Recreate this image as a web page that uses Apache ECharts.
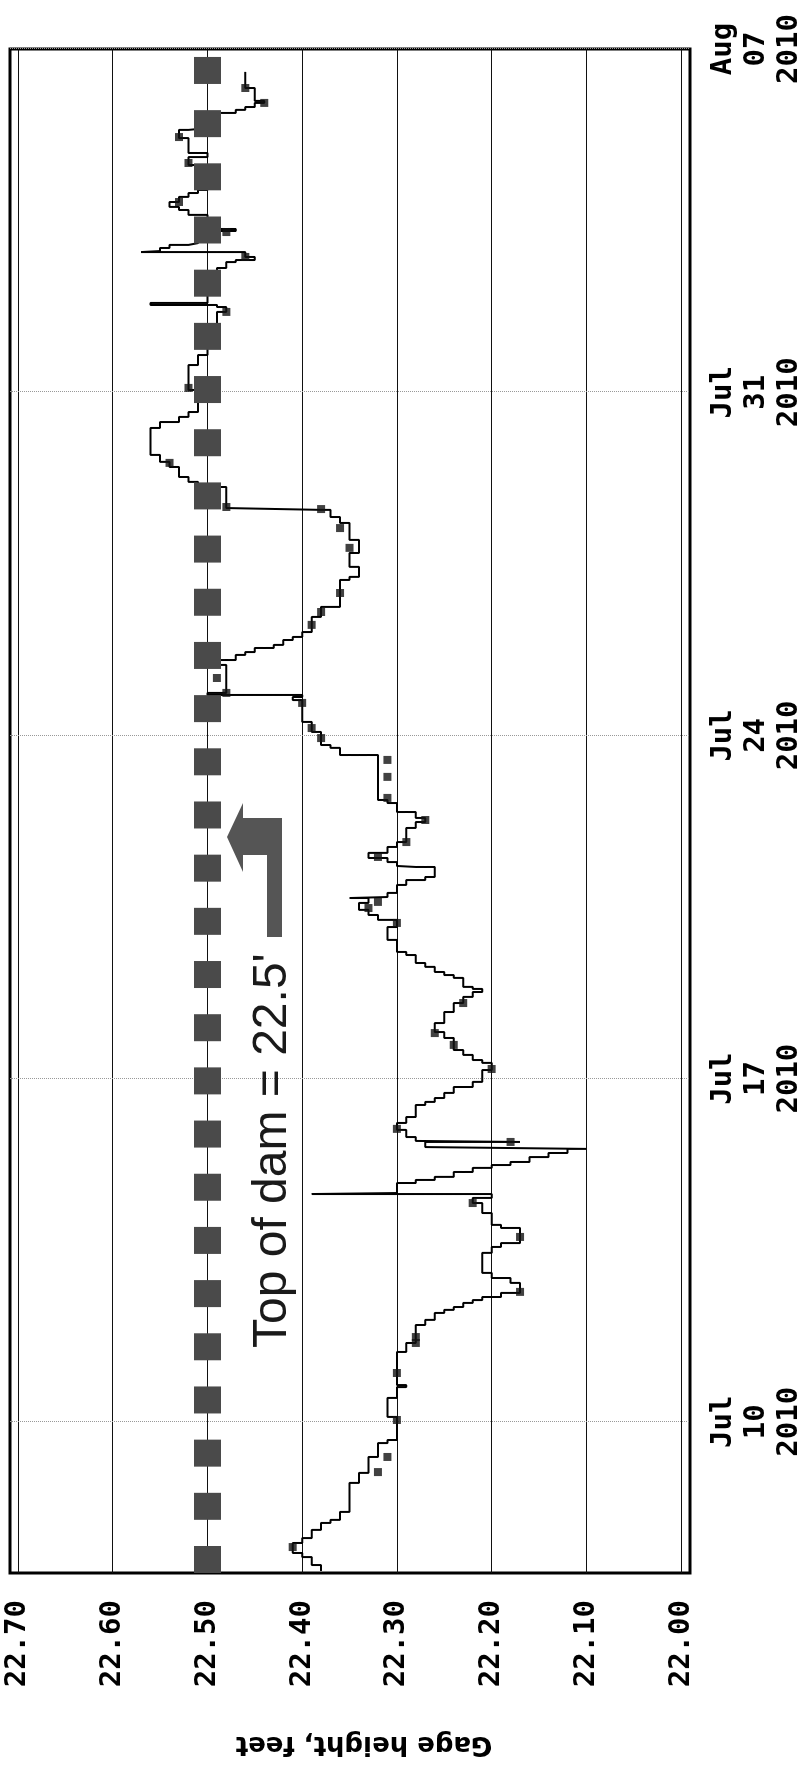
<!DOCTYPE html>
<html>
<head>
<meta charset="utf-8">
<script src="https://cdn.jsdelivr.net/npm/echarts@6/dist/echarts.min.js"></script>
<style>
html,body{margin:0;padding:0;background:#fff;width:806px;height:1767px;overflow:hidden;}
#chart{position:absolute;left:0;top:0;width:1767px;height:806px;transform-origin:0 0;transform:translate(0,1767px) rotate(-90deg);background:#fff;}
</style>
</head>
<body>
<div id="chart"></div>
<script>
// Hours after 2010-07-07 00:00 and gage height (feet), step readings
const gageHours = [-1.0,1.9,5.8,7.8,12.7,15.1,19.1,22.5,24.0,27.9,42.1,47.0,54.8,61.6,63.1,74.4,83.7,89.0,90.0,106.2,110.6,119.4,121.9,125.3,126.8,128.2,130.2,131.6,133.1,135.1,140.0,142.4,144.9,154.7,157.6,159.5,166.9,168.4,174.2,179.1,181.6,183.5,184.0,188.9,190.4,191.9,194.3,196.3,197.7,199.2,201.6,203.6,205.6,206.5,209.0,209.5,211.4,214.9,218.3,221.2,227.1,228.6,230.5,233.0,235.9,238.4,244.2,247.7,249.1,251.6,254.0,259.9,262.8,267.2,272.6,277.0,280.0,282.4,283.9,284.9,289.3,290.7,292.2,294.7,296.6,300.5,302.0,307.9,314.2,317.7,320.1,322.6,326.0,328.4,328.9,330.9,334.8,337.2,338.7,343.6,344.1,346.0,348.0,350.5,353.4,355.8,362.7,365.6,367.6,370.5,374.9,376.4,398.4,401.9,403.3,409.7,414.6,425.3,426.8,427.8,428.8,442.5,444.9,447.4,448.8,450.8,452.3,454.7,456.2,458.6,466.0,470.9,484.1,485.6,490.5,497.3,503.7,512.0,514.9,518.4,519.3,529.6,532.1,534.5,539.4,541.9,545.3,558.5,561.4,563.9,566.3,577.1,589.3,594.2,607.9,615.3,617.7,618.7,619.7,634.4,636.8,639.7,640.7,642.2,644.6,645.1,646.6,648.1,649.0,650.5,654.9,655.9,662.8,665.2,666.7,669.1,671.6,673.5,675.0,684.8,687.2,691.1,693.1,700.4,704.4,705.3,710.7,712.7,714.2,715.6,717.6,718.6,724.9,732.8];
const gageFeet = [22.38,22.39,22.40,22.41,22.40,22.39,22.38,22.37,22.36,22.35,22.34,22.33,22.32,22.31,22.30,22.31,22.30,22.29,22.30,22.29,22.28,22.27,22.26,22.25,22.24,22.23,22.22,22.21,22.19,22.17,22.18,22.20,22.21,22.20,22.19,22.17,22.19,22.20,22.21,22.22,22.20,22.39,22.30,22.28,22.26,22.24,22.22,22.20,22.18,22.16,22.14,22.12,22.10,22.27,22.17,22.28,22.29,22.30,22.29,22.28,22.27,22.26,22.25,22.24,22.22,22.21,22.20,22.21,22.22,22.23,22.24,22.25,22.26,22.25,22.24,22.23,22.22,22.21,22.22,22.23,22.24,22.25,22.26,22.27,22.28,22.29,22.30,22.31,22.30,22.32,22.33,22.34,22.33,22.35,22.31,22.30,22.29,22.27,22.26,22.28,22.30,22.31,22.33,22.31,22.30,22.29,22.28,22.27,22.28,22.30,22.31,22.32,22.36,22.37,22.38,22.39,22.40,22.41,22.40,22.50,22.48,22.49,22.47,22.46,22.45,22.43,22.42,22.41,22.40,22.39,22.38,22.36,22.35,22.34,22.35,22.34,22.35,22.36,22.37,22.38,22.48,22.51,22.52,22.53,22.54,22.55,22.56,22.55,22.53,22.52,22.51,22.52,22.51,22.50,22.49,22.48,22.49,22.56,22.50,22.49,22.48,22.47,22.45,22.46,22.57,22.55,22.54,22.52,22.51,22.50,22.47,22.50,22.52,22.53,22.54,22.53,22.52,22.51,22.50,22.51,22.52,22.50,22.52,22.53,22.52,22.50,22.49,22.47,22.46,22.45,22.44,22.45,22.46,22.46];

// small square point markers on the record
const markerHours = [10.7,47.4,54.8,72.9,95.9,110.6,113.5,135.6,162.5,179.1,209.0,215.4,244.7,256.5,262.3,277.0,316.2,323.5,326.5,348.5,355.8,366.6,377.4,387.7,396.0,406.7,411.6,423.9,428.8,436.1,462.1,468.4,477.7,499.8,509.5,518.8,519.8,541.4,578.1,615.3,642.2,654.4,669.1,688.2,700.9,717.6,724.9];
const markerFeet  = [22.41,22.32,22.31,22.30,22.30,22.28,22.28,22.17,22.17,22.22,22.18,22.30,22.20,22.24,22.26,22.23,22.30,22.33,22.32,22.32,22.29,22.27,22.31,22.31,22.31,22.38,22.39,22.40,22.48,22.49,22.39,22.38,22.36,22.35,22.36,22.38,22.48,22.54,22.52,22.48,22.46,22.48,22.53,22.52,22.53,22.44,22.46];

const dateTickHours  = [72, 240, 408, 576, 744];
const dateTickLabels = ['Jul\n10\n2010', 'Jul\n17\n2010', 'Jul\n24\n2010', 'Jul\n31\n2010', 'Aug\n07\n2010'];
const gageTicks = [22.0, 22.1, 22.2, 22.3, 22.4, 22.5, 22.6, 22.7];
const damHeight = 22.5;
const damText = "Top of dam = 22.5'";

const chart = echarts.init(document.getElementById('chart'), null, {width: 1767, height: 806, renderer: 'canvas'});
const labelFont = {fontFamily: 'DejaVu Sans Mono', fontWeight: 'bold', fontSize: 29, color: '#000'};

chart.setOption({
  animation: false,
  backgroundColor: '#fff',
  grid: {left: 194, right: 49, top: 10, bottom: 109, show: true, borderColor: '#000', borderWidth: 3, backgroundColor: 'transparent'},
  xAxis: {
    type: 'value', min: -2, max: 744,
    axisLine: {show: false},
    axisTick: {show: false, customValues: dateTickHours},
    axisLabel: Object.assign({customValues: dateTickHours, margin: 17, lineHeight: 33,
      formatter: v => { const i = dateTickHours.indexOf(Math.round(v)); return i >= 0 ? dateTickLabels[i] : ''; }}, labelFont),
    splitLine: {show: true, lineStyle: {color: '#999', type: 'dotted', width: 1}}
  },
  yAxis: {
    type: 'value', min: 21.9906, max: 22.7084,
    axisLine: {show: false},
    axisTick: {show: false, customValues: gageTicks},
    axisLabel: Object.assign({customValues: gageTicks, margin: 27, formatter: v => v.toFixed(2)}, labelFont),
    splitLine: {show: true, lineStyle: {color: '#111', width: 1}},
    name: 'Gage height, feet', nameLocation: 'middle', nameGap: 158,
    nameTextStyle: {fontFamily: 'DejaVu Sans', fontWeight: 'bold', fontSize: 26, color: '#000', padding: [0, 28, 0, 0]}
  },
  series: [
    {
      type: 'line', step: 'end', symbol: 'none', silent: true, z: 3,
      data: gageHours.map((h, i) => [h, gageFeet[i]]),
      lineStyle: {color: '#000', width: 2},
      markLine: {
        silent: true, symbol: ['none', 'none'], label: {show: false},
        lineStyle: {color: '#4a4a4a', width: 27, type: [27, 26.18], cap: 'butt'},
        emphasis: {disabled: true},
        data: [{yAxis: damHeight}]
      }
    },
    {
      type: 'scatter', symbol: 'rect', symbolSize: 8, silent: true, z: 4,
      itemStyle: {color: '#111'},
      data: markerHours.map((h, i) => [h, markerFeet[i]])
    }
  ],
  graphic: [
    {type: 'text', x: 419, y: 273, z: 10, silent: true,
     style: {text: damText, fill: '#1a1a1a', font: '48px "Liberation Sans"', align: 'left', verticalAlign: 'middle', textAlign: 'left', textVerticalAlign: 'middle'}},
    {type: 'polygon', z: 10, silent: true,
     shape: {points: [[830,267],[912,267],[912,243],[895,243],[930,227],[964,243],[949,243],[949,282],[830,282]]},
     style: {fill: '#555'}}
  ]
});
</script>
</body>
</html>
